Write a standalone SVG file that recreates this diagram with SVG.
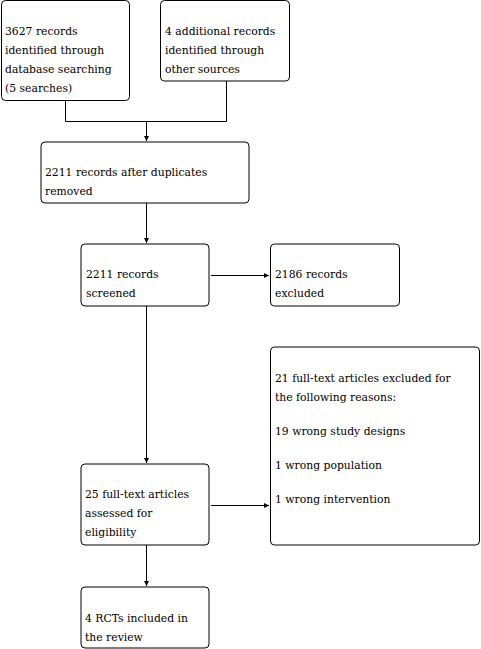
<svg xmlns="http://www.w3.org/2000/svg" width="481" height="649" viewBox="0 0 481 649">
<style>
.box{fill:#fff;stroke:#000;stroke-width:1}
.t{font-family:'DejaVu Serif',serif;font-size:10.8px;fill:#000}
.ln{fill:none;stroke:#000;stroke-width:1}
</style>
<defs>
<marker id="ah" markerWidth="6" markerHeight="6" refX="5" refY="3" orient="auto" markerUnits="userSpaceOnUse">
<path d="M0,0.5 L5,3 L0,5.5 Z" fill="#000"/>
</marker>
</defs>
<rect width="481" height="649" fill="#fff"/>
<g id="connectors">
<polyline class="ln" points="65.5,100 65.5,121.5 226.5,121.5 226.5,81"/>
<line class="ln" x1="146.5" y1="121.5" x2="146.5" y2="141" marker-end="url(#ah)"/>
<line class="ln" x1="146.5" y1="203" x2="146.5" y2="243" marker-end="url(#ah)"/>
<line class="ln" x1="211" y1="275.5" x2="269" y2="275.5" marker-end="url(#ah)"/>
<line class="ln" x1="146.5" y1="306" x2="146.5" y2="463" marker-end="url(#ah)"/>
<line class="ln" x1="211" y1="505.5" x2="269" y2="505.5" marker-end="url(#ah)"/>
<line class="ln" x1="146.5" y1="545" x2="146.5" y2="586" marker-end="url(#ah)"/>
</g>
<g id="n1" class="t">
<rect class="box" x="1.5" y="0.5" width="128" height="100" rx="4"/>
<text x="5" y="35">3627 records</text>
<text x="5" y="54">identified through</text>
<text x="5" y="73">database searching</text>
<text x="5" y="92">(5 searches)</text>
</g>
<g id="n2" class="t">
<rect class="box" x="160.5" y="0.5" width="129" height="80.5" rx="4"/>
<text x="165" y="35">4 additional records</text>
<text x="165" y="54">identified through</text>
<text x="165" y="73">other sources</text>
</g>
<g id="n3" class="t">
<rect class="box" x="41" y="142" width="208" height="61" rx="4"/>
<text x="45" y="176">2211 records after duplicates</text>
<text x="45" y="195">removed</text>
</g>
<g id="n4" class="t">
<rect class="box" x="81" y="244" width="128" height="62" rx="4"/>
<text x="86" y="278">2211 records</text>
<text x="86" y="297">screened</text>
</g>
<g id="n5" class="t">
<rect class="box" x="270.5" y="244" width="129" height="62" rx="4"/>
<text x="275" y="278">2186 records</text>
<text x="275" y="297">excluded</text>
</g>
<g id="n6" class="t">
<rect class="box" x="81" y="464" width="128" height="81" rx="4"/>
<text x="85" y="498">25 full-text articles</text>
<text x="85" y="517">assessed for</text>
<text x="85" y="536">eligibility</text>
</g>
<g id="n7" class="t">
<rect class="box" x="270.5" y="347" width="209" height="198" rx="4"/>
<text x="275" y="382">21 full-text articles excluded for</text>
<text x="275" y="401">the following reasons:</text>
<text x="275" y="435">19 wrong study designs</text>
<text x="275" y="469">1 wrong population</text>
<text x="275" y="503">1 wrong intervention</text>
</g>
<g id="n8" class="t">
<rect class="box" x="81" y="587" width="128" height="61" rx="4"/>
<text x="85" y="622">4 RCTs included in</text>
<text x="85" y="641">the review</text>
</g>
</svg>
